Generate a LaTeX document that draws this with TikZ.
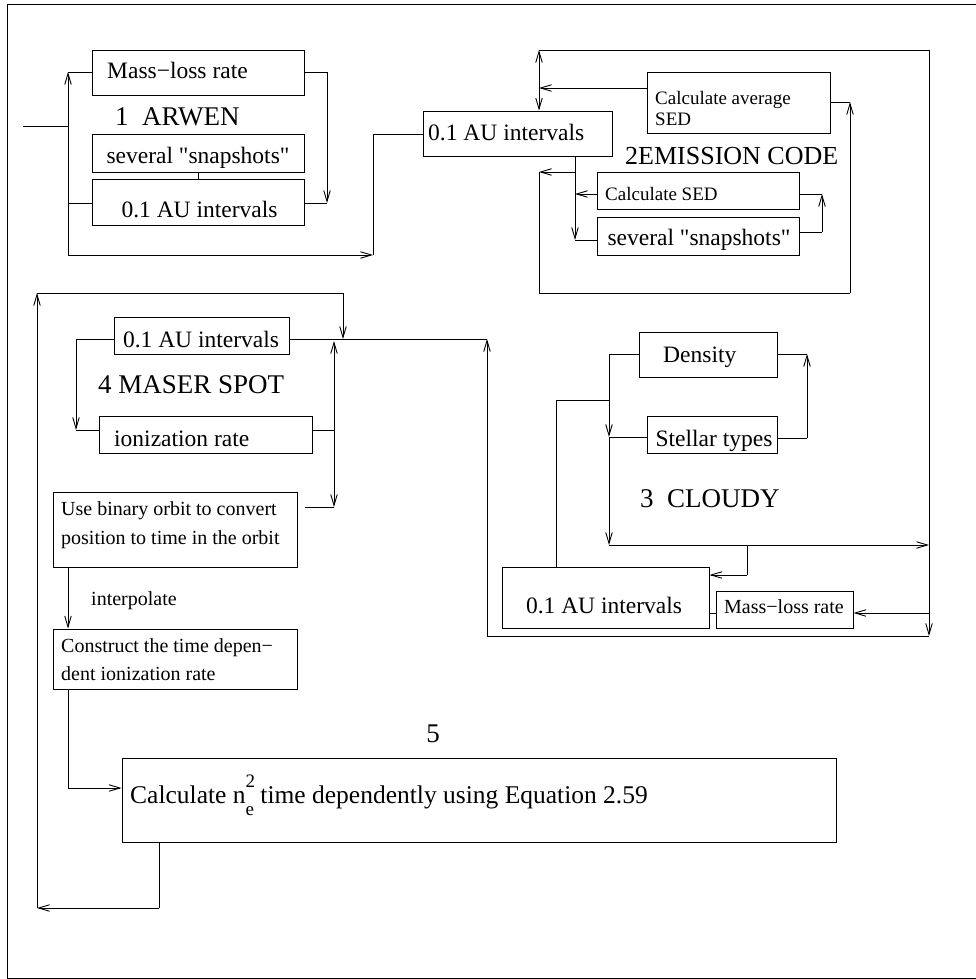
\documentclass[tikz,border=0pt]{standalone}
\usepackage{fontspec}
\setmainfont{Liberation Serif}
\newfontfamily\nolig{Liberation Serif}
\usetikzlibrary{fit,arrows.meta}
\tikzset{
 box/.style={draw, inner sep=0pt, line width=0.9pt},
 wire/.style={line width=0.9pt},
 arr/.style={wire, -{Straight Barb[length=11pt,width=6.5pt]}},
 dar/.style={wire, {Straight Barb[length=11pt,width=6.5pt]}-{Straight Barb[length=11pt,width=6.5pt]}},
 lw/.style={inner sep=0pt, anchor=base west},
 lc/.style={inner sep=0pt, anchor=base},
 big/.style={font=\fontsize{27}{30}\selectfont},
 emc/.style={font=\fontsize{26}{29}\selectfont},
 med/.style={font=\fontsize{23.5}{26}\selectfont},
 sml/.style={font=\fontsize{20}{23}\selectfont},
 tny/.style={font=\fontsize{19}{22}\selectfont},
}
\newcommand\mkbox[5]{\node[box, fit={(#2,#3) (#4,#5)}] (#1) {};}
\newcommand\dq{{\nolig\symbol{34}}}
\begin{document}
\begin{tikzpicture}[x=1pt,y=-1pt]
\useasboundingbox (0,0) rectangle (975,979);
\draw[wire] (976,4) -- (7,4) -- (7,978) -- (976,978);

% ---------- boxes
\mkbox{mlrA}{92}{50}{304}{95}
\mkbox{snA}{92}{134}{304}{172}
\mkbox{auA}{92}{179}{304}{225}
\mkbox{auB}{423}{111}{612}{156}
\mkbox{avg}{647}{72}{830}{133}
\mkbox{csed}{597}{172}{799}{209}
\mkbox{snB}{597}{217}{799}{255}
\mkbox{auD}{114}{317}{289}{354}
\mkbox{ion}{99}{416}{312}{453}
\mkbox{ubo}{53}{492}{297}{567}
\mkbox{con}{53}{629}{297}{689}
\mkbox{den}{639}{332}{777}{377}
\mkbox{stel}{647}{416}{777}{453}
\mkbox{auC}{502}{567}{709}{628}
\mkbox{mlrC}{716}{591}{853}{628}
\mkbox{calc}{122}{758}{836}{842}

% ---------- texts
\node[lw,med] (tmlrA) at (107,79) {Mass−loss rate};
\node[lw,big] (tarw) at (115,125) {1\ \ ARWEN};
\node[lc,med] (tsnA) at (198,163) {several \dq snapshots\dq};
\node[lc,med] (tauA) at (199.5,217) {0.1 AU intervals};
\node[lw,med] (tauB) at (428,140) {0.1 AU intervals};
\node[lw,tny] (tavg1) at (655,105) {Calculate average};
\node[lw,tny] (tavg2) at (655,125) {SED};
\node[lw,emc] (temi) at (625,164) {2EMISSION CODE};
\node[lw,tny] (tcsed) at (605,200) {Calculate SED};
\node[lc,med] (tsnB) at (699,245) {several \dq snapshots\dq};
\node[lc,med] (tauD) at (201,347) {0.1 AU intervals};
\node[lw,big] (tmas) at (98,393) {4 MASER SPOT};
\node[lw,med] (tion) at (114,446) {ionization rate};
\node[lw,sml] (tubo1) at (61,515) {Use binary orbit to convert};
\node[lw,sml] (tubo2) at (61,544) {position to time in the orbit};
\node[lw,sml] (tint) at (91,605) {interpolate};
\node[lw,sml] (tcon1) at (61,652) {Construct the time depen−};
\node[lw,sml] (tcon2) at (61,680) {dent ionization rate};
\node[lw,med] (tden) at (663,362) {Density};
\node[lc,med] (tstel) at (714,446) {Stellar types};
\node[lw,big] (tclo) at (640,507) {3\ \ CLOUDY};
\node[lc,med] (tauC) at (604,613) {0.1 AU intervals};
\node[lc,sml] (tmlrC) at (784,613) {Mass−loss rate};
\node[lc,big] (tfive) at (433,742) {5};
\node[lw,font=\fontsize{25.5}{28}\selectfont] (tcalc) at (130,803) {Calculate n\rlap{\raisebox{0.62em}{\fontsize{19}{19}\selectfont 2}}\raisebox{-0.48em}{\fontsize{19}{19}\selectfont e} time dependently using Equation 2.59};

% ---------- ARWEN connectors
\coordinate (in) at (23,126);
\coordinate (aL1) at (68,72);
\coordinate (aL2) at (68,126);
\coordinate (aL3) at (68,203);
\coordinate (aL4) at (68,255);
\coordinate (aR1) at (327,72);
\coordinate (aR2) at (327,203);
\coordinate (aB) at (373,255);
\coordinate (aT) at (373,134);
\draw[wire] (in) -- (aL2);
\draw[arr] (aL4) -- (aL1);
\draw[wire] (aL1) -- (mlrA.west |- aL1);
\draw[wire] (aL3) -- (auA.west |- aL3);
\draw[wire] (mlrA.east |- aR1) -- (aR1);
\draw[arr] (aR1) -- (aR2);
\draw[wire] (aR2) -- (auA.east |- aR2);
\draw[wire] (snA.south) -- (auA.north);
\draw[arr] (aL4) -- (aB);
\draw[wire] (aB) -- (aT) -- (auB.west |- aT);

% ---------- EMISSION connectors
\coordinate (eT1) at (539,50);
\coordinate (eT2) at (929,50);
\coordinate (eB) at (929,636);
\draw[dar] (eT1) -- (auB.north -| eT1);
\draw[wire] (eT1) -- (eT2);
\draw[arr] (eT2) -- (eB);
\coordinate (eA) at (539,88);
\draw[arr] (avg.west |- eA) -- (eA);
\coordinate (eR1) at (850,102);
\coordinate (eR2) at (850,293);
\coordinate (eL2) at (539,293);
\coordinate (eL1) at (539,172);
\coordinate (eM1) at (575,172);
\draw[wire] (avg.east |- eR1) -- (eR1);
\draw[arr] (eM1) -- (eL1);
\draw[wire] (eL1) -- (eL2) -- (eR2);
\draw[arr] (eR2) -- (eR1);
\coordinate (eD) at (575,240);
\draw[arr] (auB.south -| eD) -- (eD);
\draw[wire] (eD) -- (snB.west |- eD);
\coordinate (eS) at (575,194);
\draw[arr] (csed.west |- eS) -- (eS);
\coordinate (eQ1) at (822,232);
\coordinate (eQ2) at (822,194);
\draw[wire] (snB.east |- eQ1) -- (eQ1);
\draw[arr] (eQ1) -- (eQ2);
\draw[wire] (eQ2) -- (csed.east |- eQ2);

% ---------- MASER connectors
\coordinate (m1) at (76,339);
\coordinate (m2) at (76,430);
\draw[wire] (auD.west |- m1) -- (m1);
\draw[arr] (m1) -- (m2);
\draw[wire] (m2) -- (ion.west |- m2);
\coordinate (m3) at (334,430);
\coordinate (m4) at (334,341);
\coordinate (m5) at (334,507);
\coordinate (m6) at (305,507);
\draw[wire] (ion.east |- m3) -- (m3);
\draw[dar] (m4) -- (m5);
\draw[wire] (m5) -- (m6);
\coordinate (m7) at (68,600);
\draw[arr] (ubo.south -| m7) -- (con.north -| m7);
\coordinate (m8) at (68,788);
\draw[wire] (con.south -| m8) -- (m8);
\draw[arr] (m8) -- (calc.west |- m8);
\coordinate (m9) at (159,908);
\coordinate (m10) at (37,908);
\coordinate (m11) at (37,293);
\coordinate (m12) at (343,293);
\coordinate (m13) at (343,339);
\draw[wire] (calc.south -| m9) -- (m9);
\draw[arr] (m9) -- (m10);
\draw[arr] (m10) -- (m11);
\draw[wire] (m11) -- (m12);
\draw[arr] (m12) -- (m13);
\coordinate (m14) at (487,339);
\coordinate (m15) at (487,636);
\draw[wire] (auD.east |- m13) -- (m14);
\draw[wire] (eB) -- (m15);
\draw[arr] (m15) -- (m14);

% ---------- CLOUDY connectors
\coordinate (c1) at (609,354);
\coordinate (c2) at (609,437);
\coordinate (c3) at (609,545);
\coordinate (c4) at (929,545);
\draw[wire] (den.west |- c1) -- (c1);
\draw[arr] (c1) -- (c2);
\draw[wire] (c2) -- (stel.west |- c2);
\draw[arr] (c2) -- (c3);
\draw[arr] (c3) -- (c4);
\coordinate (c5) at (807,438);
\coordinate (c6) at (807,354);
\draw[wire] (stel.east |- c5) -- (c5);
\draw[arr] (c5) -- (c6);
\draw[wire] (c6) -- (den.east |- c6);
\coordinate (c7) at (609,400);
\coordinate (c8) at (556,400);
\draw[wire] (c7) -- (c8) -- (auC.north -| c8);
\coordinate (c9) at (747,545);
\coordinate (c10) at (747,575);
\draw[wire] (c9) -- (c10);
\draw[arr] (c10) -- (auC.east |- c10);
\coordinate (c11) at (929,613);
\draw[wire] (auC.east |- c11) -- (mlrC.west |- c11);
\draw[arr] (c11) -- (mlrC.east |- c11);
\end{tikzpicture}
\end{document}
